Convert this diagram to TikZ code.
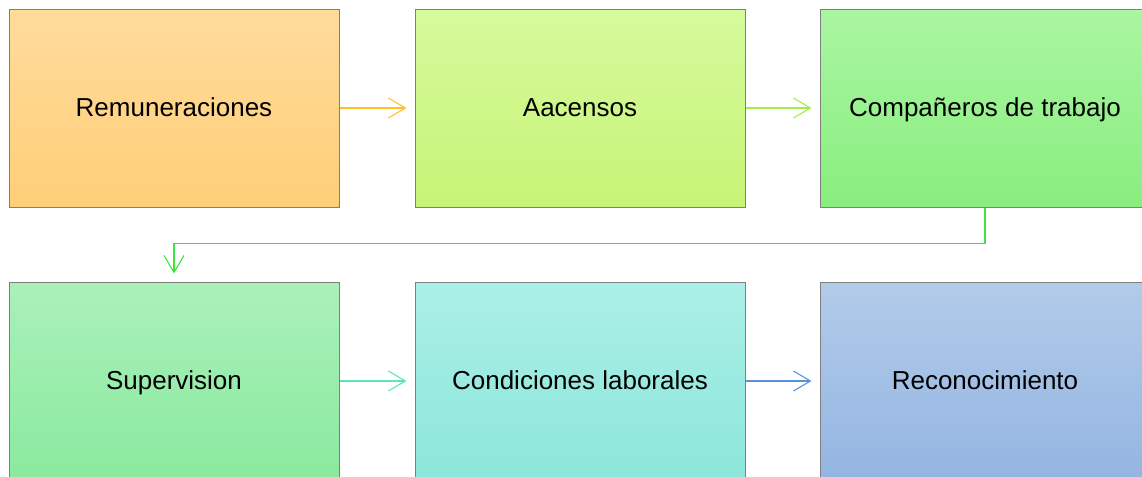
\documentclass[tikz,border=0pt]{standalone}
\usepackage{fontspec}
\setmainfont{Liberation Sans}
\usepackage{tikz}
\usetikzlibrary{arrows.meta,positioning}
\definecolor{BorderGrey}{HTML}{7F7F7F}
\definecolor{OrangeTop}{HTML}{FFDB9C}
\definecolor{OrangeBot}{HTML}{FFCF78}
\definecolor{LimeTop}{HTML}{D6FA9C}
\definecolor{LimeBot}{HTML}{C6F476}
\definecolor{GreenTop}{HTML}{AAF6A2}
\definecolor{GreenBot}{HTML}{88EE7E}
\definecolor{MintTop}{HTML}{AAF0BA}
\definecolor{MintBot}{HTML}{8AEA9E}
\definecolor{AquaTop}{HTML}{ABEFE8}
\definecolor{AquaBot}{HTML}{8CE6DA}
\definecolor{BlueTop}{HTML}{B2CBEA}
\definecolor{BlueBot}{HTML}{94B5E2}
\definecolor{OrangeArrow}{HTML}{FFC12A}
\definecolor{LimeArrow}{HTML}{A2EE44}
\definecolor{GreenArrow}{HTML}{3FE33F}
\definecolor{MintArrow}{HTML}{5BE6B2}
\definecolor{BlueArrow}{HTML}{5A92DA}
\tikzset{
  stepbox/.style={draw=BorderGrey,line width=0.5pt,minimum width=165pt,minimum height=99pt,
    inner sep=0pt,text height=10pt,text depth=2pt,font=\fontsize{13}{15}\selectfont},
  flow/.style={line width=0.55pt,shorten >=4pt,-{Straight Barb[length=8.5pt,width=10pt,line width=0.55pt]}}
}

\begin{document}
\begin{tikzpicture}[x=0.5pt,y=0.5pt]
  \clip (0,0) rectangle (1142,-477);
  \node[stepbox,top color=OrangeTop,bottom color=OrangeBot] (rem) at (174,-108){Remuneraciones};
  \node[stepbox,top color=LimeTop,bottom color=LimeBot] (asc) at (580,-108){Aacensos};
  \node[stepbox,top color=GreenTop,bottom color=GreenBot] (comp) at (985,-108){Compañeros de trabajo};
  \node[stepbox,top color=MintTop,bottom color=MintBot] (sup) at (174,-381){Supervision};
  \node[stepbox,top color=AquaTop,bottom color=AquaBot] (cond) at (580,-381){Condiciones laborales};
  \node[stepbox,top color=BlueTop,bottom color=BlueBot] (rec) at (985,-381){Reconocimiento};
  \draw[flow,OrangeArrow] (rem) -- (asc);
  \draw[flow,LimeArrow] (asc) -- (comp);
  \draw[flow,GreenArrow] (comp.south) -- ++(0,-36) -| (sup.north);
  \draw[flow,MintArrow] (sup) -- (cond);
  \draw[flow,BlueArrow] (cond) -- (rec);
\end{tikzpicture}
\end{document}
